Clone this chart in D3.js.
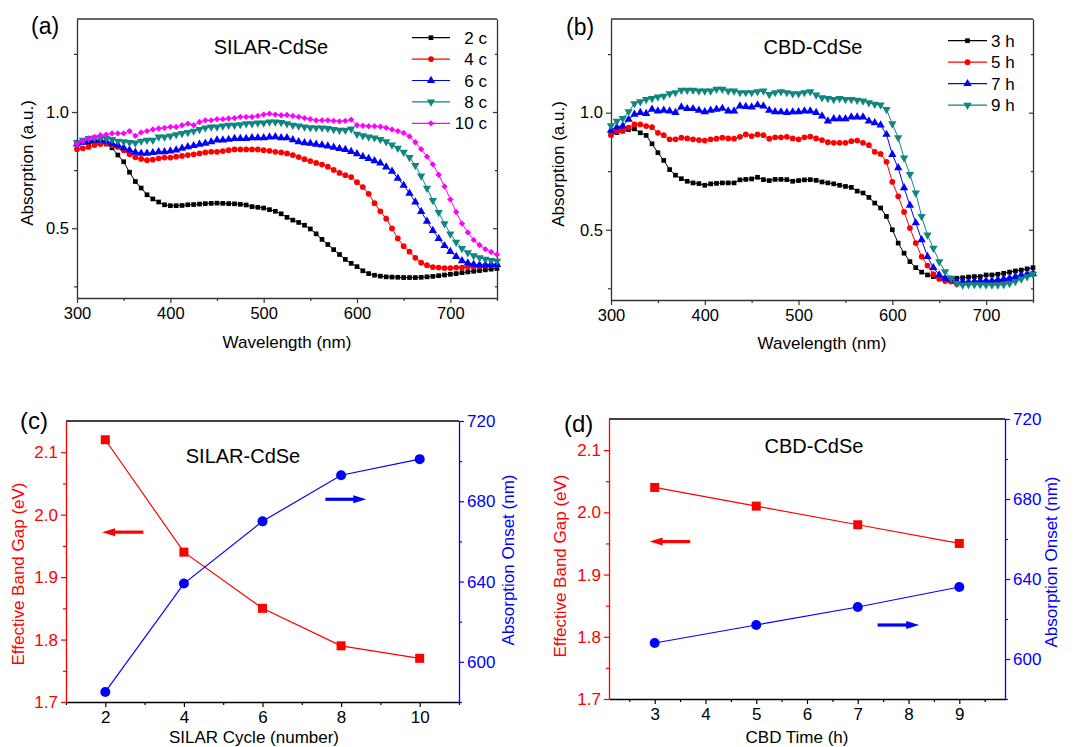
<!DOCTYPE html>
<html>
<head>
<meta charset="utf-8">
<script src="https://cdn.jsdelivr.net/npm/d3@7"></script>
<style>
  body { margin: 0; background: #fff; }
  svg { display: block; }
</style>
</head>
<body>
<div id="vis"></div>
<script>
/* absorption spectra + band gap summary, CdSe films (SILAR vs CBD) */

// wavelength grid of the plotted points (nm)
var wavelengths = d3.range(300, 750.01, 6.25);

// (a) SILAR-CdSe spectra, one array per cycle count
var silar2c = [.869,.870,.868,.866,.867,.862,.846,.815,.786,.741,
  .701,.673,.644,.626,.613,.601,.597,.597,.598,.601,
  .602,.604,.606,.607,.608,.607,.606,.605,.603,.600,
  .593,.590,.587,.580,.573,.562,.547,.535,.525,.513,
  .497,.476,.452,.430,.408,.387,.366,.349,.335,.317,
  .305,.298,.294,.291,.290,.289,.288,.288,.288,.289,
  .291,.293,.296,.299,.302,.305,.309,.312,.315,.318,
  .321,.324,.327];
var silar4c = [.840,.844,.850,.858,.862,.866,.858,.850,.836,.818,
  .805,.798,.793,.795,.801,.804,.804,.808,.811,.815,
  .818,.822,.826,.829,.829,.832,.836,.839,.839,.839,
  .839,.839,.836,.833,.829,.826,.822,.815,.806,.797,
  .789,.781,.774,.765,.751,.738,.728,.720,.698,.677,
  .648,.608,.573,.541,.499,.456,.423,.399,.373,.352,
  .341,.333,.331,.329,.329,.331,.331,.333,.335,.338,
  .339,.341,.342];
var silar6c = [.862,.869,.875,.879,.879,.875,.865,.858,.846,.836,
  .827,.822,.822,.825,.829,.829,.832,.836,.844,.850,
  .855,.861,.865,.872,.879,.879,.882,.886,.886,.886,
  .889,.889,.889,.892,.893,.889,.889,.880,.872,.867,
  .865,.861,.858,.853,.848,.843,.838,.830,.820,.808,
  .800,.790,.780,.763,.745,.715,.685,.650,.613,.572,
  .530,.490,.456,.425,.400,.378,.360,.350,.345,.342,
  .342,.343,.344];
var silar8c = [.868,.879,.886,.889,.889,.886,.882,.875,.872,.869,
  .867,.875,.879,.879,.893,.893,.897,.903,.908,.912,
  .918,.925,.932,.936,.936,.940,.943,.943,.946,.950,
  .950,.953,.953,.957,.957,.955,.950,.943,.940,.936,
  .933,.932,.932,.929,.925,.922,.922,.927,.905,.898,
  .893,.889,.882,.872,.858,.844,.827,.805,.770,.725,
  .672,.620,.568,.520,.476,.440,.413,.395,.382,.373,
  .367,.362,.359];
var silar10c = [.862,.875,.886,.893,.900,.903,.908,.908,.908,.918,
  .897,.912,.918,.925,.929,.932,.936,.936,.943,.950,
  .943,.957,.964,.964,.969,.969,.972,.974,.979,.979,
  .979,.983,.989,.993,.989,.986,.987,.983,.979,.974,
  .969,.964,.964,.964,.962,.960,.962,.967,.943,.941,
  .939,.939,.937,.932,.925,.918,.910,.895,.870,.840,
  .808,.775,.730,.680,.624,.570,.520,.482,.450,.428,
  .410,.398,.387];

// (b) CBD-CdSe spectra, one array per deposition time
var cbd3h = [.905,.915,.921,.928,.931,.914,.903,.867,.829,.796,
  .757,.733,.718,.707,.700,.697,.690,.696,.698,.700,
  .700,.700,.713,.715,.717,.724,.714,.710,.715,.715,
  .714,.707,.710,.713,.714,.711,.704,.700,.696,.690,
  .685,.681,.665,.657,.638,.614,.593,.557,.500,.443,
  .400,.364,.338,.319,.307,.300,.295,.293,.293,.293,
  .295,.298,.300,.300,.307,.307,.310,.314,.319,.324,
  .328,.333,.338];
var cbd5h = [.905,.921,.924,.936,.950,.950,.943,.938,.914,.904,
  .886,.886,.893,.890,.886,.883,.881,.886,.889,.893,
  .890,.889,.897,.907,.900,.907,.904,.889,.895,.895,
  .897,.890,.886,.895,.898,.890,.883,.874,.871,.871,
  .871,.878,.881,.871,.861,.833,.824,.790,.704,.643,
  .576,.507,.443,.385,.347,.310,.290,.281,.279,.268,
  .270,.273,.276,.277,.279,.279,.281,.284,.290,.293,
  .300,.307,.314];
var cbd7h = [.925,.938,.943,.971,.993,1.000,.996,1.014,1.007,1.010,
  1.007,1.000,1.024,1.017,1.017,1.010,1.004,1.010,1.014,1.018,
  1.007,1.007,1.028,1.026,1.024,1.033,1.028,1.010,1.004,1.003,
  1.000,1.003,1.004,1.007,1.007,1.000,.985,.964,.974,.974,
  .974,.981,.981,.981,.964,.957,.947,.907,.821,.764,
  .679,.604,.529,.457,.385,.338,.307,.293,.286,.279,
  .279,.276,.279,.281,.281,.281,.286,.290,.293,.300,
  .307,.310,.312];
var cbd9h = [.945,.964,.976,1.004,1.039,1.047,1.057,1.061,1.067,1.071,
  1.081,1.086,1.096,1.096,1.096,1.093,1.093,1.093,1.100,1.100,
  1.093,1.093,1.086,1.086,1.086,1.090,1.093,1.078,1.086,1.090,
  1.086,1.081,1.081,1.086,1.090,1.076,1.064,1.061,1.057,1.061,
  1.057,1.057,1.053,1.050,1.043,1.036,1.033,1.014,.953,.893,
  .807,.736,.657,.557,.478,.421,.364,.321,.293,.271,
  .264,.266,.266,.266,.264,.264,.264,.266,.271,.279,
  .290,.300,.310];

var silarSeries = [silar2c, silar4c, silar6c, silar8c, silar10c];
var silarNames = ['2 c', '4 c', '6 c', '8 c', '10 c'];
var cbdSeries = [cbd3h, cbd5h, cbd7h, cbd9h];
var cbdNames = ['3 h', '5 h', '7 h', '9 h'];

// (c) and (d) band gap / absorption onset
var silarCycles = [2, 4, 6, 8, 10];
var silarGap = [2.12, 1.94, 1.85, 1.79, 1.77];
var silarOnset = [585, 639, 670, 693, 701];
var cbdTimes = [3, 5, 7, 9];
var cbdGap = [2.04, 2.01, 1.98, 1.95];
var cbdOnset = [608, 617, 626, 636];

// tick values
var wlMajor = [300, 400, 500, 600, 700];
var wlMinor = [350, 450, 550, 650, 750];
var absMajor = [0.5, 1.0];
var absMinor = [0.25, 0.75, 1.25];
var cycleMajor = [2, 4, 6, 8, 10];
var cycleMinor = [1, 3, 5, 7, 9, 11];
var timeMajor = [3, 4, 5, 6, 7, 8, 9];
var timeMinor = [2.5, 3.5, 4.5, 5.5, 6.5, 7.5, 8.5, 9.5];
var gapMajor = [1.7, 1.8, 1.9, 2.0, 2.1];
var gapMinor = [1.75, 1.85, 1.95, 2.05];
var onsetMajor = [600, 640, 680, 720];
var onsetMinor = [580, 620, 660, 700];


var FONT = "'Liberation Sans', Arial, Helvetica, sans-serif";
var RED = '#ff0000', BLUE = '#0000ff', FRAME = '#333';

var colors = ['#000000', '#ff0000', '#0000ff', '#11857f', '#ff00ff'];
var shapes = [
	{ type: d3.symbolSquare, size: 22, rot: 0 },
	{ type: d3.symbolCircle, size: 26, rot: 0 },
	{ type: d3.symbolTriangle, size: 30, rot: 0 },
	{ type: d3.symbolTriangle, size: 30, rot: 180 },
	{ type: d3.symbolSquare, size: 20, rot: 45 }
];

var svg = d3.select('#vis').append('svg')
	.attr('width', 1076)
	.attr('height', 747)
	.style('font-family', FONT);

svg.append('rect').attr('width', 1076).attr('height', 747).attr('fill', '#fff');

SpectrumPanel(
	{ left: 77, right: 497, top: 19, bottom: 298 }, silarSeries, silarNames,
	{ x1: 412, x2: 450, y0: 37.7, dy: 21.4, tx: 487, anchor: 'end' },
	{ tag: '(a)', tagX: 31, tagY: 34, title: 'SILAR-CdSe', titleX: 271, titleY: 54, yTitleX: 33, yTitleY: 163, xTitleY: 348 }
);

SpectrumPanel(
	{ left: 611, right: 1033, top: 19, bottom: 300 }, cbdSeries, cbdNames,
	{ x1: 948, x2: 987, y0: 40.7, dy: 21.5, tx: 991, anchor: 'start' },
	{ tag: '(b)', tagX: 566, tagY: 35, title: 'CBD-CdSe', titleX: 813, titleY: 54, yTitleX: 564, yTitleY: 164, xTitleY: 349 }
);

GapPanel(
	{ left: 66, right: 459, top: 421, bottom: 702 }, [1, 11], cycleMajor, cycleMinor,
	silarCycles, silarGap, silarOnset,
	{ tag: '(c)', tagX: 20, tagY: 429, title: 'SILAR-CdSe', titleX: 243, titleY: 463,
	  xTitle: 'SILAR Cycle (number)', xTitleX: 254, xTitleY: 743,
	  leftTitleX: 24, leftTitleY: 574, rightTitleX: 514, rightTitleY: 560,
	  redArrow: [2.97, 1.92, 1.972], blueArrow: [7.6, 8.64, 681] }
);

GapPanel(
	{ left: 609, right: 1005, top: 419, bottom: 699 }, [2.1, 9.9], timeMajor, timeMinor,
	cbdTimes, cbdGap, cbdOnset,
	{ tag: '(d)', tagX: 564, tagY: 432, title: 'CBD-CdSe', titleX: 814, titleY: 453,
	  xTitle: 'CBD Time (h)', xTitleX: 797, xTitleY: 743,
	  leftTitleX: 566, leftTitleY: 566, rightTitleX: 1057, rightTitleY: 562,
	  redArrow: [3.70, 2.90, 1.953], blueArrow: [7.39, 8.21, 617] }
);


// put an axis on the svg and colour it
function addAxis(axis, tx, ty, color, fontSize, minor) {
	var g = svg.append('g')
		.attr('transform', 'translate(' + tx + ',' + ty + ')')
		.call(axis);
	// the axis call sets its own font, so override afterwards
	g.attr('font-family', FONT).attr('font-size', fontSize);
	g.select('.domain')
		.attr('stroke', color)
		.attr('stroke-width', 1.3);
	if (minor) g.select('.domain').remove();
	g.selectAll('.tick line').attr('stroke', color).attr('stroke-width', 1.2);
	g.selectAll('.tick text').attr('fill', color);
	return g;
}

function label(x, y, txt, size, color, anchor, rotate) {
	var t = svg.append('text')
		.attr('x', x)
		.attr('y', y)
		.attr('font-size', size)
		.attr('fill', color || '#000')
		.attr('text-anchor', anchor || 'start')
		.text(txt);
	if (rotate) t.attr('transform', 'rotate(-90,' + x + ',' + y + ')');
	return t;
}

function marker(sel, k) {
	var s = shapes[k];
	return sel.attr('d', d3.symbol().type(s.type).size(s.size)())
		.attr('fill', colors[k]);
}

/*
 Spectrum panel: absorption vs wavelength, one line+marker series per sample
*/
function SpectrumPanel(box, series, names, leg, txt) {
	var x = d3.scaleLinear().domain([300, 750]).range([box.left, box.right]);
	var y = d3.scaleLinear().domain([0.2, 1.4]).range([box.bottom, box.top]);

	// axes: bottom + left with labels, right with inward ticks, plain top
	addAxis(d3.axisBottom(x).tickValues(wlMinor).tickSize(3).tickFormat(''), 0, box.bottom, FRAME, 16.5, true);
	addAxis(d3.axisBottom(x).tickValues(wlMajor).tickSize(5).tickSizeOuter(0).tickPadding(4).tickFormat(d3.format('d')), 0, box.bottom, FRAME, 16.5)
		.selectAll('.tick text').attr('fill', '#000');
	addAxis(d3.axisLeft(y).tickValues(absMinor).tickSize(3).tickFormat(''), box.left, 0, FRAME, 16.5, true);
	addAxis(d3.axisLeft(y).tickValues(absMajor).tickSize(5).tickSizeOuter(0).tickPadding(3).tickFormat(d3.format('.1f')), box.left, 0, FRAME, 16.5)
		.selectAll('.tick text').attr('fill', '#000');
	addAxis(d3.axisLeft(y).tickValues(absMajor).tickSize(4).tickSizeOuter(0).tickFormat(''), box.right, 0, FRAME, 16.5);
	addAxis(d3.axisLeft(y).tickValues(absMinor).tickSize(2).tickFormat(''), box.right, 0, FRAME, 16.5, true);
	svg.append('line')
		.attr('x1', box.left).attr('x2', box.right)
		.attr('y1', box.top).attr('y2', box.top)
		.attr('stroke', FRAME).attr('stroke-width', 1.3);

	var line = d3.line()
		.x(function(d, i) { return x(wavelengths[i]); })
		.y(function(d) { return y(d); });

	series.forEach(function(values, k) {
		var g = svg.append('g');
		g.append('path')
			.datum(values)
			.attr('d', line)
			.attr('fill', 'none')
			.attr('stroke', colors[k])
			.attr('stroke-width', 1);
		g.selectAll('path.pt')
			.data(values)
			.enter()
			.append('path')
			.attr('class', 'pt')
			.call(marker, k)
			.attr('transform', function(d, i) {
				return 'translate(' + x(wavelengths[i]) + ',' + y(d) + ') rotate(' + shapes[k].rot + ')';
			});

		// legend row
		var ly = leg.y0 + k * leg.dy;
		svg.append('line')
			.attr('x1', leg.x1).attr('x2', leg.x2)
			.attr('y1', ly).attr('y2', ly)
			.attr('stroke', colors[k]).attr('stroke-width', 1.2);
		svg.append('path')
			.call(marker, k)
			.attr('transform', 'translate(' + (leg.x1 + leg.x2) / 2 + ',' + ly + ') rotate(' + shapes[k].rot + ')');
		label(leg.tx, ly + 6, names[k], 17, '#000', leg.anchor);
	});

	label(txt.tagX, txt.tagY, txt.tag, 23);
	label(txt.titleX, txt.titleY, txt.title, 20, '#000', 'middle');
	label((box.left + box.right) / 2, txt.xTitleY, 'Wavelength (nm)', 17, '#000', 'middle');
	label(txt.yTitleX, txt.yTitleY, 'Absorption (a.u.)', 17, '#000', 'middle', true);
}

/*
 Band gap panel: red gap (left axis) + blue absorption onset (right axis)
*/
function GapPanel(box, xDomain, xMajor, xMinor, cats, gap, onset, txt) {
	var x = d3.scaleLinear().domain(xDomain).range([box.left, box.right]);
	var yL = d3.scaleLinear().domain([1.7, 2.15]).range([box.bottom, box.top]);
	var yR = d3.scaleLinear().domain([580, 720]).range([box.bottom, box.top]);

	addAxis(d3.axisBottom(x).tickValues(xMinor).tickSize(3).tickFormat(''), 0, box.bottom, '#000', 17, true);
	addAxis(d3.axisBottom(x).tickValues(xMajor).tickSize(5).tickSizeOuter(0).tickPadding(4).tickFormat(d3.format('d')), 0, box.bottom, '#000', 17);
	svg.append('line')
		.attr('x1', box.left).attr('x2', box.right)
		.attr('y1', box.top).attr('y2', box.top)
		.attr('stroke', '#000').attr('stroke-width', 1.3);

	addAxis(d3.axisLeft(yL).tickValues(gapMinor).tickSize(3).tickFormat(''), box.left, 0, RED, 17, true);
	addAxis(d3.axisLeft(yL).tickValues(gapMajor).tickSize(5).tickSizeOuter(0).tickPadding(3).tickFormat(d3.format('.1f')), box.left, 0, RED, 17);
	addAxis(d3.axisRight(yR).tickValues(onsetMinor).tickSize(3).tickFormat(''), box.right, 0, BLUE, 17, true);
	addAxis(d3.axisRight(yR).tickValues(onsetMajor).tickSize(5).tickSizeOuter(0).tickPadding(3).tickFormat(d3.format('d')), box.right, 0, BLUE, 17);

	// band gap
	svg.append('path')
		.datum(gap)
		.attr('d', d3.line().x(function(d, i) { return x(cats[i]); }).y(function(d) { return yL(d); }))
		.attr('fill', 'none').attr('stroke', RED).attr('stroke-width', 1.2);
	svg.selectAll(null)
		.data(gap)
		.enter()
		.append('rect')
		.attr('x', function(d, i) { return x(cats[i]) - 4.5; })
		.attr('y', function(d) { return yL(d) - 4.5; })
		.attr('width', 9).attr('height', 9)
		.attr('fill', RED);

	// onset
	svg.append('path')
		.datum(onset)
		.attr('d', d3.line().x(function(d, i) { return x(cats[i]); }).y(function(d) { return yR(d); }))
		.attr('fill', 'none').attr('stroke', BLUE).attr('stroke-width', 1.2);
	svg.selectAll(null)
		.data(onset)
		.enter()
		.append('circle')
		.attr('cx', function(d, i) { return x(cats[i]); })
		.attr('cy', function(d) { return yR(d); })
		.attr('r', 5)
		.attr('fill', BLUE);

	// arrows pointing at the axis each curve belongs to
	arrow(x(txt.redArrow[0]), x(txt.redArrow[1]), yL(txt.redArrow[2]), RED);
	arrow(x(txt.blueArrow[0]), x(txt.blueArrow[1]), yR(txt.blueArrow[2]), BLUE);

	label(txt.tagX, txt.tagY, txt.tag, 24);
	label(txt.titleX, txt.titleY, txt.title, 20, '#000', 'middle');
	label(txt.xTitleX, txt.xTitleY, txt.xTitle, 17, '#000', 'middle');
	label(txt.leftTitleX, txt.leftTitleY, 'Effective Band Gap (eV)', 17, RED, 'middle', true);
	label(txt.rightTitleX, txt.rightTitleY, 'Absorption Onset (nm)', 17, BLUE, 'middle', true);
}

function arrow(x0, x1, y, color) {
	var dir = x1 > x0 ? 1 : -1;
	var head = 13;
	svg.append('line')
		.attr('x1', x0).attr('x2', x1 - dir * head + dir)
		.attr('y1', y).attr('y2', y)
		.attr('stroke', color).attr('stroke-width', 3.2);
	svg.append('path')
		.attr('d', 'M' + x1 + ',' + y + 'L' + (x1 - dir * head) + ',' + (y - 4) + 'L' + (x1 - dir * head) + ',' + (y + 4) + 'Z')
		.attr('fill', color);
}
</script>
</body>
</html>
